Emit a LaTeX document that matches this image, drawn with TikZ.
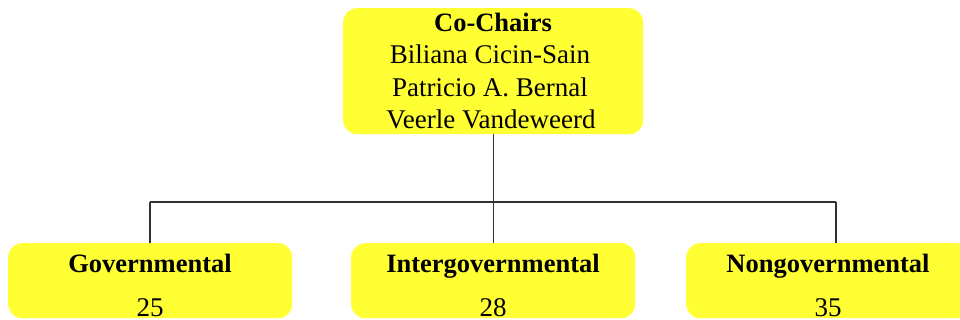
\documentclass[tikz,border=0pt]{standalone}
\usepackage{fontspec}
\setmainfont{Liberation Serif}
\definecolor{boxyellow}{RGB}{255,255,51}
\definecolor{linegrey}{RGB}{50,50,50}
\begin{document}
\begin{tikzpicture}[x=1pt,y=-1pt,
  box/.style={draw=none,fill=boxyellow,rounded corners=14pt,inner sep=0pt,anchor=north west},
  txt/.style={inner sep=0pt,anchor=base,font=\fontsize{27}{32}\selectfont},
  btxt/.style={inner sep=0pt,anchor=base,font=\fontsize{26.5}{32}\selectfont\bfseries},
  conn/.style={draw=linegrey,line width=1.1pt}]
\useasboundingbox (0,0) rectangle (960,320);
\clip (0,0) rectangle (960,320);
% top box
\node[box,minimum width=300pt,minimum height=126pt] (top) at (343,8) {};
\node[btxt] (l1) at (493,32) {Co-Chairs};
\node[txt] (l2) at (490,64) {Biliana Cicin-Sain};
\node[txt] (l3) at (490,97) {Patricio A. Bernal};
\node[txt] (l4) at (491,129) {Veerle Vandeweerd};
% bottom boxes
\node[box,minimum width=284pt,minimum height=75pt] (gov) at (8,243) {};
\node[box,minimum width=284pt,minimum height=75pt] (igov) at (351,243) {};
\node[box,minimum width=284pt,minimum height=75pt] (ngov) at (686,243) {};
\node[btxt] (govt) at (150,272) {Governmental};
\node[txt] (govn) at (150,316) {25};
\node[btxt] (igovt) at (493,272) {Intergovernmental};
\node[txt] (igovn) at (493,316) {28};
\node[btxt] (ngovt) at (828,272) {Nongovernmental};
\node[txt] (ngovn) at (828,316) {35};
% connectors
\coordinate (jL) at (150,202);
\coordinate (jR) at (836,202);
\draw[conn] (top.south) -- (top.south |- jL);
\draw[conn] (jL) -- (jR);
\draw[conn] (jL) -- (jL |- gov.north);
\draw[conn] (top.south |- jL) -- (top.south |- igov.north);
\draw[conn] (jR) -- (jR |- ngov.north);
\end{tikzpicture}
\end{document}
